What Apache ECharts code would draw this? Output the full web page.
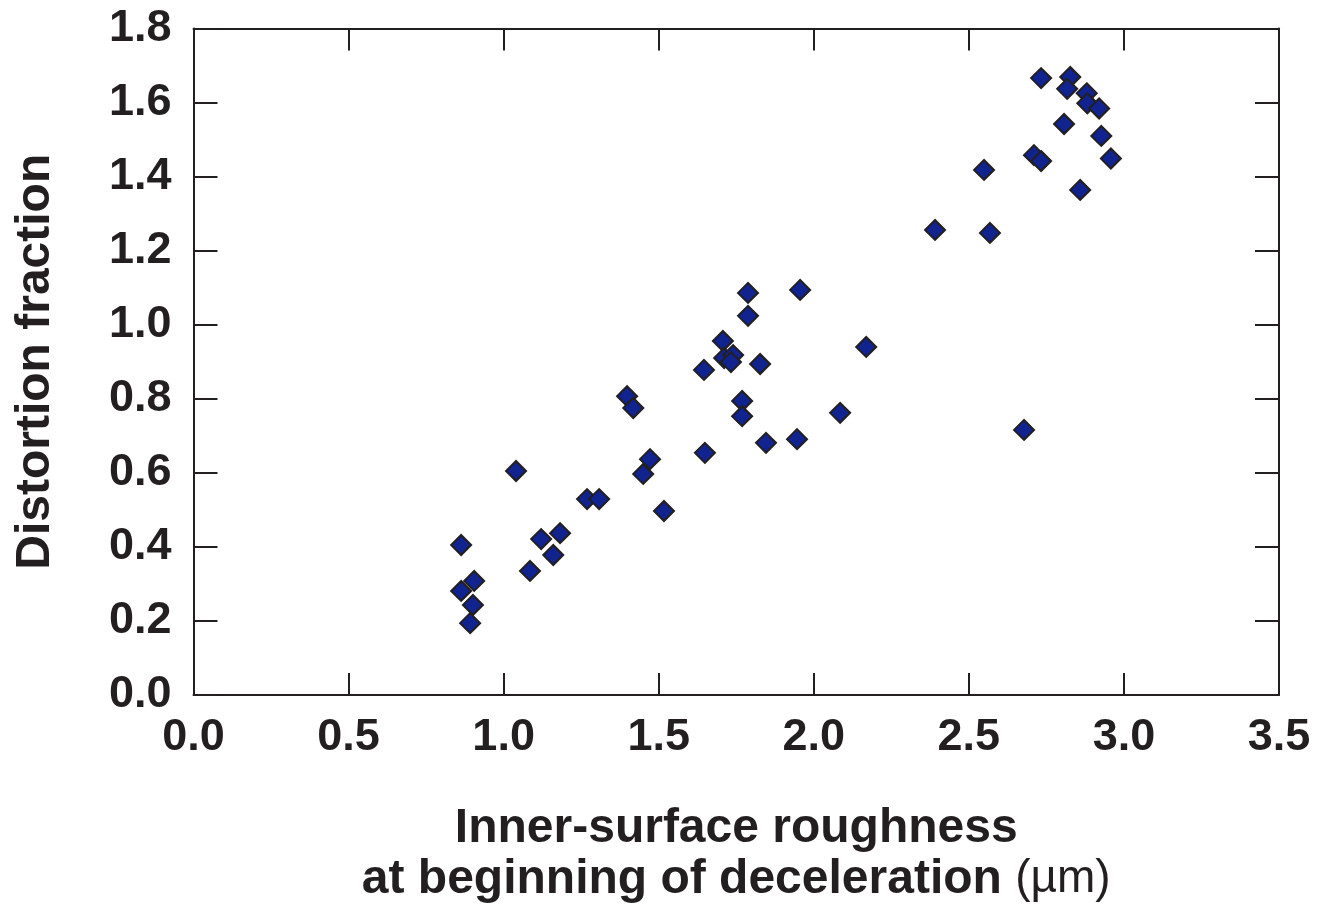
<!DOCTYPE html>
<html>
<head>
<meta charset="utf-8">
<script src="https://cdn.jsdelivr.net/npm/echarts@6/dist/echarts.min.js"></script>
<style>
html,body{margin:0;padding:0;background:#fff;}
#chart{width:1319px;height:905px;}
</style>
</head>
<body>
<div id="chart"></div>
<script>
// Inner-surface roughness (µm)
var roughness = [0.863,0.863,0.905,0.901,0.892,1.040,1.085,1.121,1.160,1.182,1.269,1.308,1.398,1.418,1.450,1.472,1.517,1.646,1.649,1.707,1.711,1.740,1.733,1.769,1.769,1.788,1.788,1.827,1.846,1.946,1.956,2.085,2.169,2.391,2.549,2.568,2.678,2.710,2.733,2.733,2.807,2.827,2.817,2.859,2.880,2.882,2.920,2.927,2.958];
// Distortion fraction
var distortion = [0.405,0.281,0.308,0.243,0.194,0.605,0.335,0.421,0.378,0.437,0.529,0.529,0.807,0.775,0.597,0.637,0.497,0.878,0.654,0.956,0.910,0.918,0.899,0.794,0.753,1.086,1.024,0.894,0.681,0.691,1.094,0.762,0.940,1.256,1.418,1.248,0.716,1.458,1.442,1.666,1.542,1.669,1.637,1.364,1.625,1.598,1.584,1.510,1.449];
var xTicks = {min:0, max:3.5, interval:0.5};
var yTicks = {min:0, max:1.8, interval:0.2};

var points = roughness.map(function(x,i){return [x, distortion[i]];});
var FONT = 'Liberation Sans';
var INK = '#231f20';

var chart = echarts.init(document.getElementById('chart'));
var lineStyle = {color: INK, width: 2};
chart.setOption({
  backgroundColor: '#ffffff',
  animation: false,
  grid: {left: 193.5, right: 40, top: 28.5, bottom: 210, containLabel: false, outerBoundsMode: 'none'},
  xAxis: [{
    type: 'value', min: xTicks.min, max: xTicks.max, interval: xTicks.interval,
    axisLine: {show: true, onZero: false, lineStyle: lineStyle},
    axisTick: {show: true, inside: true, length: 22, lineStyle: lineStyle},
    splitLine: {show: false},
    axisLabel: {fontFamily: FONT, fontWeight: 'bold', fontSize: 45, color: INK, margin: 20,
      formatter: function(v){return v.toFixed(1);}},
    name: '{a|Inner-surface roughness}\n{a|at beginning of deceleration }{b|(µm)}',
    nameLocation: 'middle', nameGap: 108,
    nameTextStyle: {
      rich: {
        a: {fontFamily: FONT, fontWeight: 'bold', fontSize: 48, color: INK, lineHeight: 51},
        b: {fontFamily: FONT, fontWeight: 'normal', fontSize: 46, color: INK, lineHeight: 51}
      }
    }
  },{
    type: 'value', position: 'top', min: xTicks.min, max: xTicks.max, interval: xTicks.interval,
    axisLine: {show: true, onZero: false, lineStyle: lineStyle},
    axisTick: {show: true, inside: true, length: 22, lineStyle: lineStyle},
    splitLine: {show: false}, axisLabel: {show: false}
  }],
  yAxis: [{
    type: 'value', min: yTicks.min, max: yTicks.max, interval: yTicks.interval,
    axisLine: {show: true, onZero: false, lineStyle: lineStyle},
    axisTick: {show: true, inside: true, length: 24, lineStyle: lineStyle},
    splitLine: {show: false},
    axisLabel: {fontFamily: FONT, fontWeight: 'bold', fontSize: 45, color: INK, margin: 22,
      formatter: function(v){return v.toFixed(1);}},
    name: 'Distortion fraction', nameLocation: 'middle', nameGap: 134,
    nameTextStyle: {fontFamily: FONT, fontWeight: 'bold', fontSize: 48, color: INK}
  },{
    type: 'value', position: 'right', min: yTicks.min, max: yTicks.max, interval: yTicks.interval,
    axisLine: {show: true, onZero: false, lineStyle: lineStyle},
    axisTick: {show: true, inside: true, length: 24, lineStyle: lineStyle},
    splitLine: {show: false}, axisLabel: {show: false}
  }],
  series: [{
    type: 'scatter', xAxisIndex: 0, yAxisIndex: 0,
    data: points, symbol: 'diamond', symbolSize: 20,
    itemStyle: {color: '#10238e', borderColor: INK, borderWidth: 2, opacity: 1}
  }]
});
</script>
</body>
</html>
